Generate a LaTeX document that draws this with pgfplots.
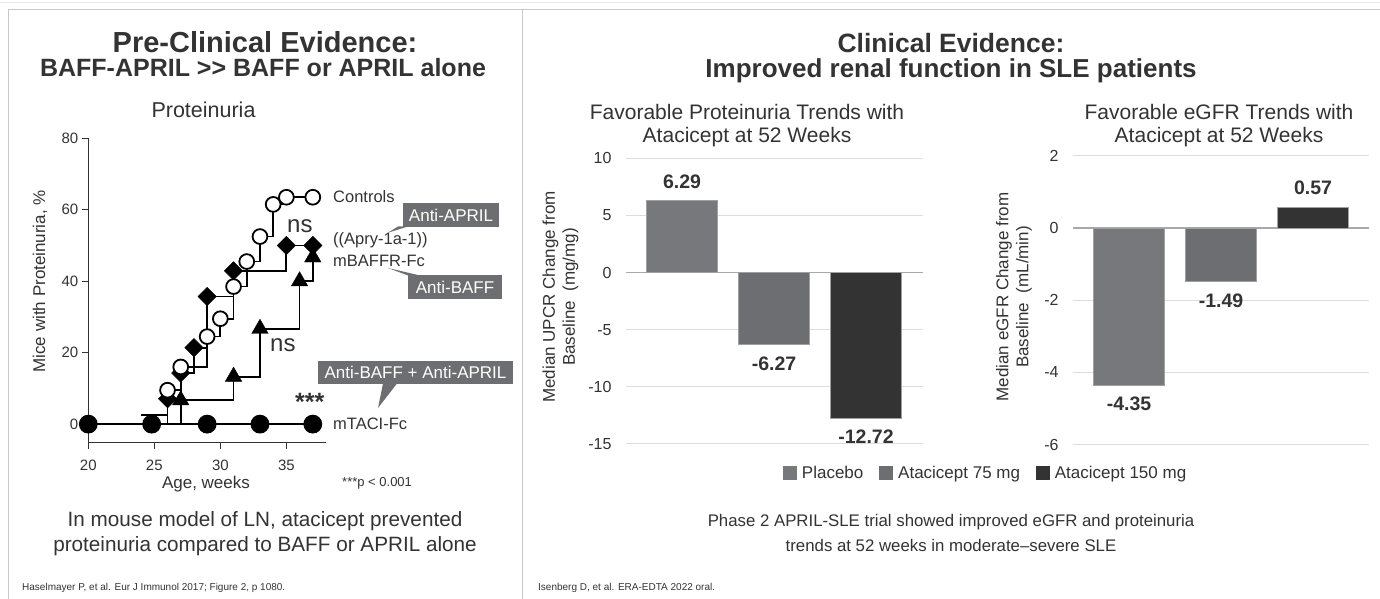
\documentclass[border=0pt]{standalone}
\usepackage{pgfplots}
\pgfplotsset{compat=1.18}
\usepackage{fontspec}
\setmainfont{Liberation Sans}
\usetikzlibrary{plotmarks}
\definecolor{txt}{HTML}{333333}
\definecolor{boxgray}{HTML}{6D6E71}
\definecolor{plac}{HTML}{77787B}
\definecolor{afs}{HTML}{6D6E71}
\definecolor{aoh}{HTML}{333333}
\definecolor{gridc}{HTML}{DDDDDD}
\definecolor{zeroc}{HTML}{A8A8A8}
\definecolor{edgec}{HTML}{A0A0A0}
\definecolor{framec}{HTML}{C8C8C8}
\definecolor{framel}{HTML}{E8E8E8}
\newcommand{\fs}[2]{\fontsize{#1}{#2}\selectfont}
\pgfplotsset{barax/.style={
  scale only axis, ybar, bar width=70.5pt, bar shift=0pt,
  xmin=-0.609, xmax=2.616, xtick=\empty,
  axis line style={draw=none}, tick style={draw=none},
  ymajorgrids, grid style={line width=1pt, gridc},
  extra y ticks={0}, extra y tick labels={},
  extra y tick style={grid style={line width=1.2pt, zeroc}},
  yticklabel style={font=\fs{16}{19}, text=txt, xshift=-11pt},
  /pgf/number format/assume math mode=true,
  nodes near coords={\pgfmathprintnumber[assume math mode=true, fixed, precision=2, fixed zerofill]{\pgfplotspointmeta}},
  nodes near coords align=vertical,
  every node near coord/.append style={font=\bfseries\fs{19.5}{23}, text=txt, inner xsep=0pt, inner ysep=12pt},
  ylabel style={font=\fs{17}{20}, text=txt, align=center},
  clip=false,
}}
\begin{document}
\begin{tikzpicture}
\fill[white] (0pt,0pt) rectangle (1380pt,599pt);
% frame
\draw[framel, line width=1pt] (0pt,596pt) -- (1380pt,596pt);
\draw[framec, line width=1pt] (8pt,0pt) -- (8pt,589pt) -- (1380pt,589pt);
\draw[framec, line width=1pt] (522pt,0pt) -- (522pt,589pt);
% panel titles
\node[anchor=base, text=txt, font=\bfseries\fs{29}{34}] at (265pt,546pt) {Pre-Clinical Evidence:};
\node[anchor=base, text=txt, font=\bfseries\fs{25}{30}] at (263pt,522pt) {BAFF-APRIL >{}> BAFF or APRIL alone};
\node[anchor=base, text=txt, font=\fs{21.5}{25}] at (203.5pt,481pt) {Proteinuria};
\node[anchor=base, text=txt, font=\bfseries\fs{26.5}{31}] at (951pt,546pt) {Clinical Evidence:};
\node[anchor=base, text=txt, font=\bfseries\fs{26}{31}] at (951pt,521pt) {Improved renal function in SLE patients};
\node[anchor=base, text=txt, font=\fs{21}{25}] at (747pt,479pt) {Favorable Proteinuria Trends with};
\node[anchor=base, text=txt, font=\fs{21}{25}] at (747pt,456pt) {Atacicept at 52 Weeks};
\node[anchor=base, text=txt, font=\fs{21}{25}] at (1219pt,479pt) {Favorable eGFR Trends with};
\node[anchor=base, text=txt, font=\fs{21}{25}] at (1219pt,456pt) {Atacicept at 52 Weeks};

% ---------- left: survival-type step plot
\begin{axis}[name=axL,
  at={(88.3pt,156.3pt)}, anchor=south west, scale only axis,
  width=237.7pt, height=304.4pt,
  xmin=20, xmax=38, ymin=-5.2, ymax=80,
  axis lines=left, axis line style={-, line width=1.3pt, draw=black!80},
  xtick={20,25,30,35}, ytick={0,20,40,60,80},
  tick align=outside, major tick length=6.5pt,
  tick style={line width=1.3pt, black!80},
  ticklabel style={font=\fs{15}{18}, text=txt},
  xticklabel style={yshift=-7pt},
  /pgf/number format/assume math mode=true,
  clip=false,
  xlabel={Age, weeks}, ylabel={Mice with Proteinuria, \%},
  xlabel style={font=\fs{17}{20}, text=txt, at={(axis description cs:0.495,-0.152)}, anchor=base},
  ylabel style={font=\fs{17}{20}, text=txt, at={(axis description cs:-0.203,0.53)}, anchor=center},
]
% Anti-BAFF (mBAFFR-Fc), triangles
\addplot[const plot, line width=1.8pt, black] coordinates {(25,0) (27,6.7) (31,13.3) (33,26.7) (36,40) (37,46.7)};
\addplot[only marks, mark=triangle*, mark size=9.5pt, black] coordinates {(27,6.7) (31,13.3) (33,26.7) (36,40) (37,46.7)};
% Anti-APRIL, diamonds
\addplot[const plot, line width=1.8pt, black] coordinates {(25,0) (26,7.1) (27,14.3) (28,21.4) (29,35.7) (31,42.9) (35,50) (37,50)};
\addplot[only marks, mark=square*, mark size=6.5pt, mark options={rotate=45}, black] coordinates {(26,7.1) (27,14.3) (28,21.4) (29,35.7) (31,42.9) (35,50) (37,50)};
% Controls, open circles
\addplot[const plot, line width=1.8pt, black] coordinates {(24,2.5) (26,9.5) (27,16) (29,24.5) (30,29.5) (31,38.5) (32,45.5) (33,52.5) (34,61.5) (35,63.5) (37,63.5)};
\addplot[only marks, mark=*, mark size=7.4pt, mark options={fill=white, draw=black, line width=1.8pt}] coordinates {(26,9.5) (27,16) (29,24.5) (30,29.5) (31,38.5) (32,45.5) (33,52.5) (34,61.5) (35,63.5) (37,63.5)};
% mTACI-Fc, filled circles
\addplot[line width=1.8pt, black, mark=*, mark size=8.5pt, mark options={fill=black}] coordinates {(20,0) (24.8,0) (29,0) (33,0) (37,0)};
\end{axis}

% left annotations
\node[anchor=base west, inner sep=0pt, text=txt, font=\fs{16.5}{20}] at (333pt,396pt) {Controls};
\node[anchor=base west, inner sep=0pt, text=txt, font=\fs{16.5}{20}] at (333pt,354pt) {((Apry-1a-1))};
\node[anchor=base west, inner sep=0pt, text=txt, font=\fs{16.5}{20}] at (333pt,332pt) {mBAFFR-Fc};
\node[anchor=base west, inner sep=0pt, text=txt, font=\fs{16.5}{20}] at (333pt,169pt) {mTACI-Fc};
\node[anchor=base west, inner sep=0pt, text=txt, font=\fs{24}{28}] at (287pt,366pt) {ns};
\node[anchor=base west, inner sep=0pt, text=txt, font=\fs{24}{28}] at (270pt,247pt) {ns};
\node[anchor=base west, inner sep=0pt, text=txt, font=\bfseries\fs{25}{28}] at (295pt,188pt) {***};
\node[anchor=base west, inner sep=0pt, text=txt, font=\fs{13}{16}] at (342pt,112pt) {***p < 0.001};
% callouts
\fill[boxgray] (403pt,372pt) rectangle (499pt,396pt);
\fill[boxgray] (398pt,372.5pt) -- (388pt,366.3pt) -- (408pt,372.5pt) -- cycle;
\node[text=white, font=\fs{17}{20}] at (451pt,384pt) {Anti-APRIL};
\fill[boxgray] (408pt,300pt) rectangle (502pt,324pt);
\fill[boxgray] (408pt,323.5pt) -- (388pt,331pt) -- (420pt,323.5pt) -- cycle;
\node[text=white, font=\fs{17}{20}] at (455pt,312pt) {Anti-BAFF};
\fill[boxgray] (318pt,215pt) rectangle (513pt,238pt);
\fill[boxgray] (383pt,215.5pt) -- (378pt,191pt) -- (397pt,215.5pt) -- cycle;
\node[text=white, font=\fs{17}{20}] at (415.5pt,226.5pt) {Anti-BAFF + Anti-APRIL};

% ---------- middle: UPCR bars
\begin{axis}[barax, name=axM,
  at={(626pt,155pt)}, anchor=south west, width=296.7pt, height=285.7pt,
  ymin=-15, ymax=10, ytick={-15,-10,...,10},
  ylabel={Median UPCR Change from\\Baseline\ \ (mg/mg)},
  ylabel style={at={(axis description cs:-0.2208,0.5145)}, anchor=center},
  legend columns=3,
  legend style={at={(axis description cs:0.529,-0.1015)}, anchor=west, draw=none, fill=none,
    inner sep=0pt, font=\fs{17}{20}, text=txt,
    nodes={inner xsep=0pt, inner ysep=1pt},
    /tikz/every odd column/.append style={column sep=5pt},
    /tikz/every even column/.append style={column sep=16pt}},
]
\addplot[fill=plac, draw=edgec, line width=0.8pt, legend image code/.code={\fill[plac] (0pt,-6pt) rectangle (13pt,7pt);}] coordinates {(0,6.29)};
\addplot[fill=afs, draw=edgec, line width=0.8pt, legend image code/.code={\fill[afs] (0pt,-6pt) rectangle (13pt,7pt);}] coordinates {(1,-6.27)};
\addplot[fill=aoh, draw=edgec, line width=0.8pt, legend image code/.code={\fill[aoh] (0pt,-6pt) rectangle (13pt,7pt);}] coordinates {(2,-12.72)};
\legend{Placebo, Atacicept 75 mg, Atacicept 150 mg}
\end{axis}

% ---------- right: eGFR bars
\begin{axis}[barax, name=axR,
  at={(1073pt,154.5pt)}, anchor=south west, width=296pt, height=288.7pt,
  xmax=2.609,
  ymin=-6, ymax=2, ytick={-6,-4,...,2},
  ylabel={Median eGFR Change from\\Baseline\ \ (mL/min)},
  ylabel style={at={(axis description cs:-0.1993,0.511)}, anchor=center},
]
\addplot[fill=plac, draw=edgec, line width=0.8pt] coordinates {(0,-4.35)};
\addplot[fill=afs, draw=edgec, line width=0.8pt] coordinates {(1,-1.49)};
\addplot[fill=aoh, draw=edgec, line width=0.8pt] coordinates {(2,0.57)};
\end{axis}

% bottom texts
\node[anchor=base, text=txt, font=\fs{20.7}{25}] at (265pt,72pt) {In mouse model of LN, atacicept prevented};
\node[anchor=base, text=txt, font=\fs{20.7}{25}] at (265pt,47pt) {proteinuria compared to BAFF or APRIL alone};
\node[anchor=base, text=txt, font=\fs{16.8}{20}] at (951pt,72pt) {Phase 2 APRIL-SLE trial showed improved eGFR and proteinuria};
\node[anchor=base, text=txt, font=\fs{16.8}{20}] at (951pt,47pt) {trends at 52 weeks in moderate--severe SLE};
\node[anchor=base west, inner sep=0pt, text=txt, font=\fs{10}{12}] at (22pt,9pt) {Haselmayer P, et al. Eur J Immunol 2017; Figure 2, p 1080.};
\node[anchor=base west, inner sep=0pt, text=txt, font=\fs{10}{12}] at (538pt,9pt) {Isenberg D, et al. ERA-EDTA 2022 oral.};
\pgfresetboundingbox
\useasboundingbox (0pt,0pt) rectangle (1380pt,599pt);
\end{tikzpicture}
\end{document}
